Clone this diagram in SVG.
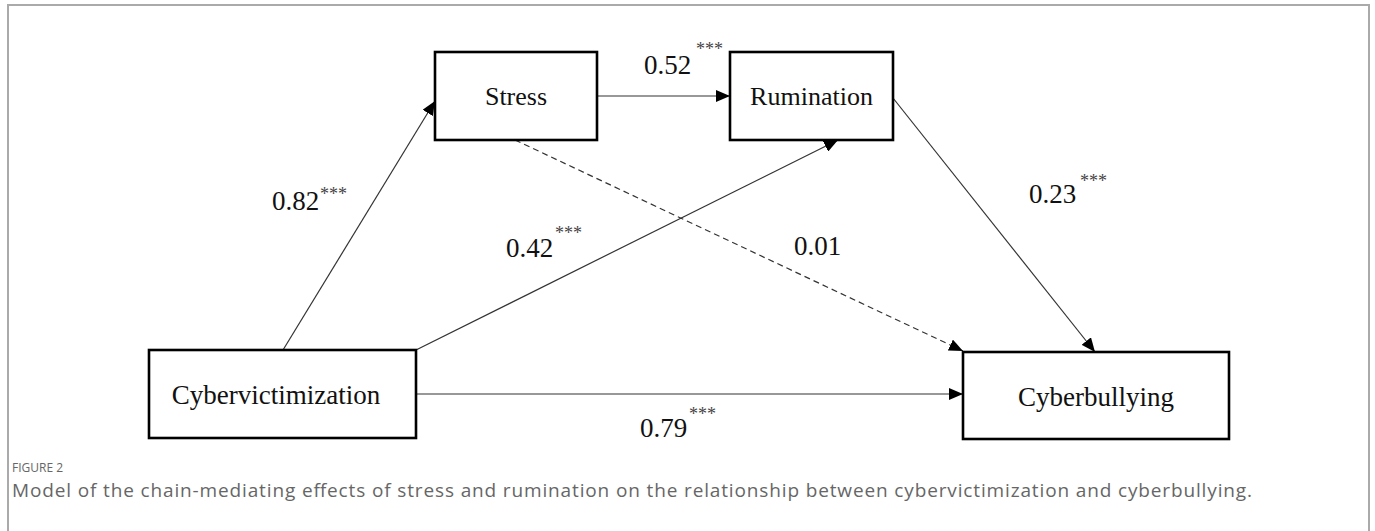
<svg xmlns="http://www.w3.org/2000/svg" width="1375" height="531" viewBox="0 0 1375 531">
<style>
.box{fill:#fff;stroke:#000;stroke-width:2.6}
.lbl{font-family:"Liberation Serif","Times New Roman",serif;font-size:27px;fill:#111}
.sm{font-size:26px}
.star{font-family:"Liberation Serif","Times New Roman",serif;font-size:18px;fill:#444}
.ln{stroke:#333;stroke-width:1.2;fill:none}
.dash{stroke:#333;stroke-width:1.2;fill:none;stroke-dasharray:6 4}
.cap{font-family:"Open Sans","Noto Sans",sans-serif;fill:#666}
.frame{stroke:#aaa;stroke-width:2;fill:none}
</style>
<defs>
<marker id="ah" viewBox="0 0 14 12" refX="14" refY="6" markerWidth="14" markerHeight="12" markerUnits="userSpaceOnUse" orient="auto">
<path d="M0,0 L14,6 L0,12 Z" fill="#000"/>
</marker>
</defs>
<rect width="1375" height="531" fill="#fff"/>
<path class="frame" d="M8,531 V5 H1369 V531"/>
<g id="connectors">
<line class="ln" x1="283" y1="350" x2="435" y2="101" marker-end="url(#ah)"/>
<line class="ln" x1="597" y1="96" x2="730" y2="96" marker-end="url(#ah)"/>
<line class="ln" x1="416" y1="350" x2="838" y2="140" marker-end="url(#ah)"/>
<line class="dash" x1="515" y1="140" x2="963" y2="351" marker-end="url(#ah)"/>
<line class="ln" x1="893" y1="98" x2="1095" y2="352" marker-end="url(#ah)"/>
<line class="ln" x1="416" y1="394" x2="963" y2="394" marker-end="url(#ah)"/>
</g>
<g id="stress">
<rect class="box" x="435" y="52" width="162" height="88"/>
<text class="lbl sm" x="516" y="105" text-anchor="middle">Stress</text>
</g>
<g id="rumination">
<rect class="box" x="730" y="52" width="163" height="88"/>
<text class="lbl sm" x="811.5" y="105" text-anchor="middle">Rumination</text>
</g>
<g id="cybervictimization">
<rect class="box" x="149" y="350" width="267" height="88"/>
<text class="lbl" x="276" y="404" text-anchor="middle">Cybervictimization</text>
</g>
<g id="cyberbullying">
<rect class="box" x="963" y="352" width="266" height="87"/>
<text class="lbl" x="1096" y="406" text-anchor="middle">Cyberbullying</text>
</g>
<g id="labels">
<text class="lbl" x="272" y="210">0.82</text><text class="star" x="320" y="200">***</text>
<text class="lbl" x="644" y="74">0.52</text><text class="star" x="696" y="55">***</text>
<text class="lbl" x="506" y="257">0.42</text><text class="star" x="555" y="239">***</text>
<text class="lbl" x="794" y="255">0.01</text>
<text class="lbl" x="1029" y="203">0.23</text><text class="star" x="1080" y="187">***</text>
<text class="lbl" x="640" y="437">0.79</text><text class="star" x="689" y="420">***</text>
</g>
<g id="caption">
<text class="cap" x="12" y="472" font-size="12">FIGURE 2</text>
<text class="cap" x="12" y="497" font-size="19" textLength="1240" lengthAdjust="spacing">Model of the chain-mediating effects of stress and rumination on the relationship between cybervictimization and cyberbullying.</text>
</g>
</svg>
